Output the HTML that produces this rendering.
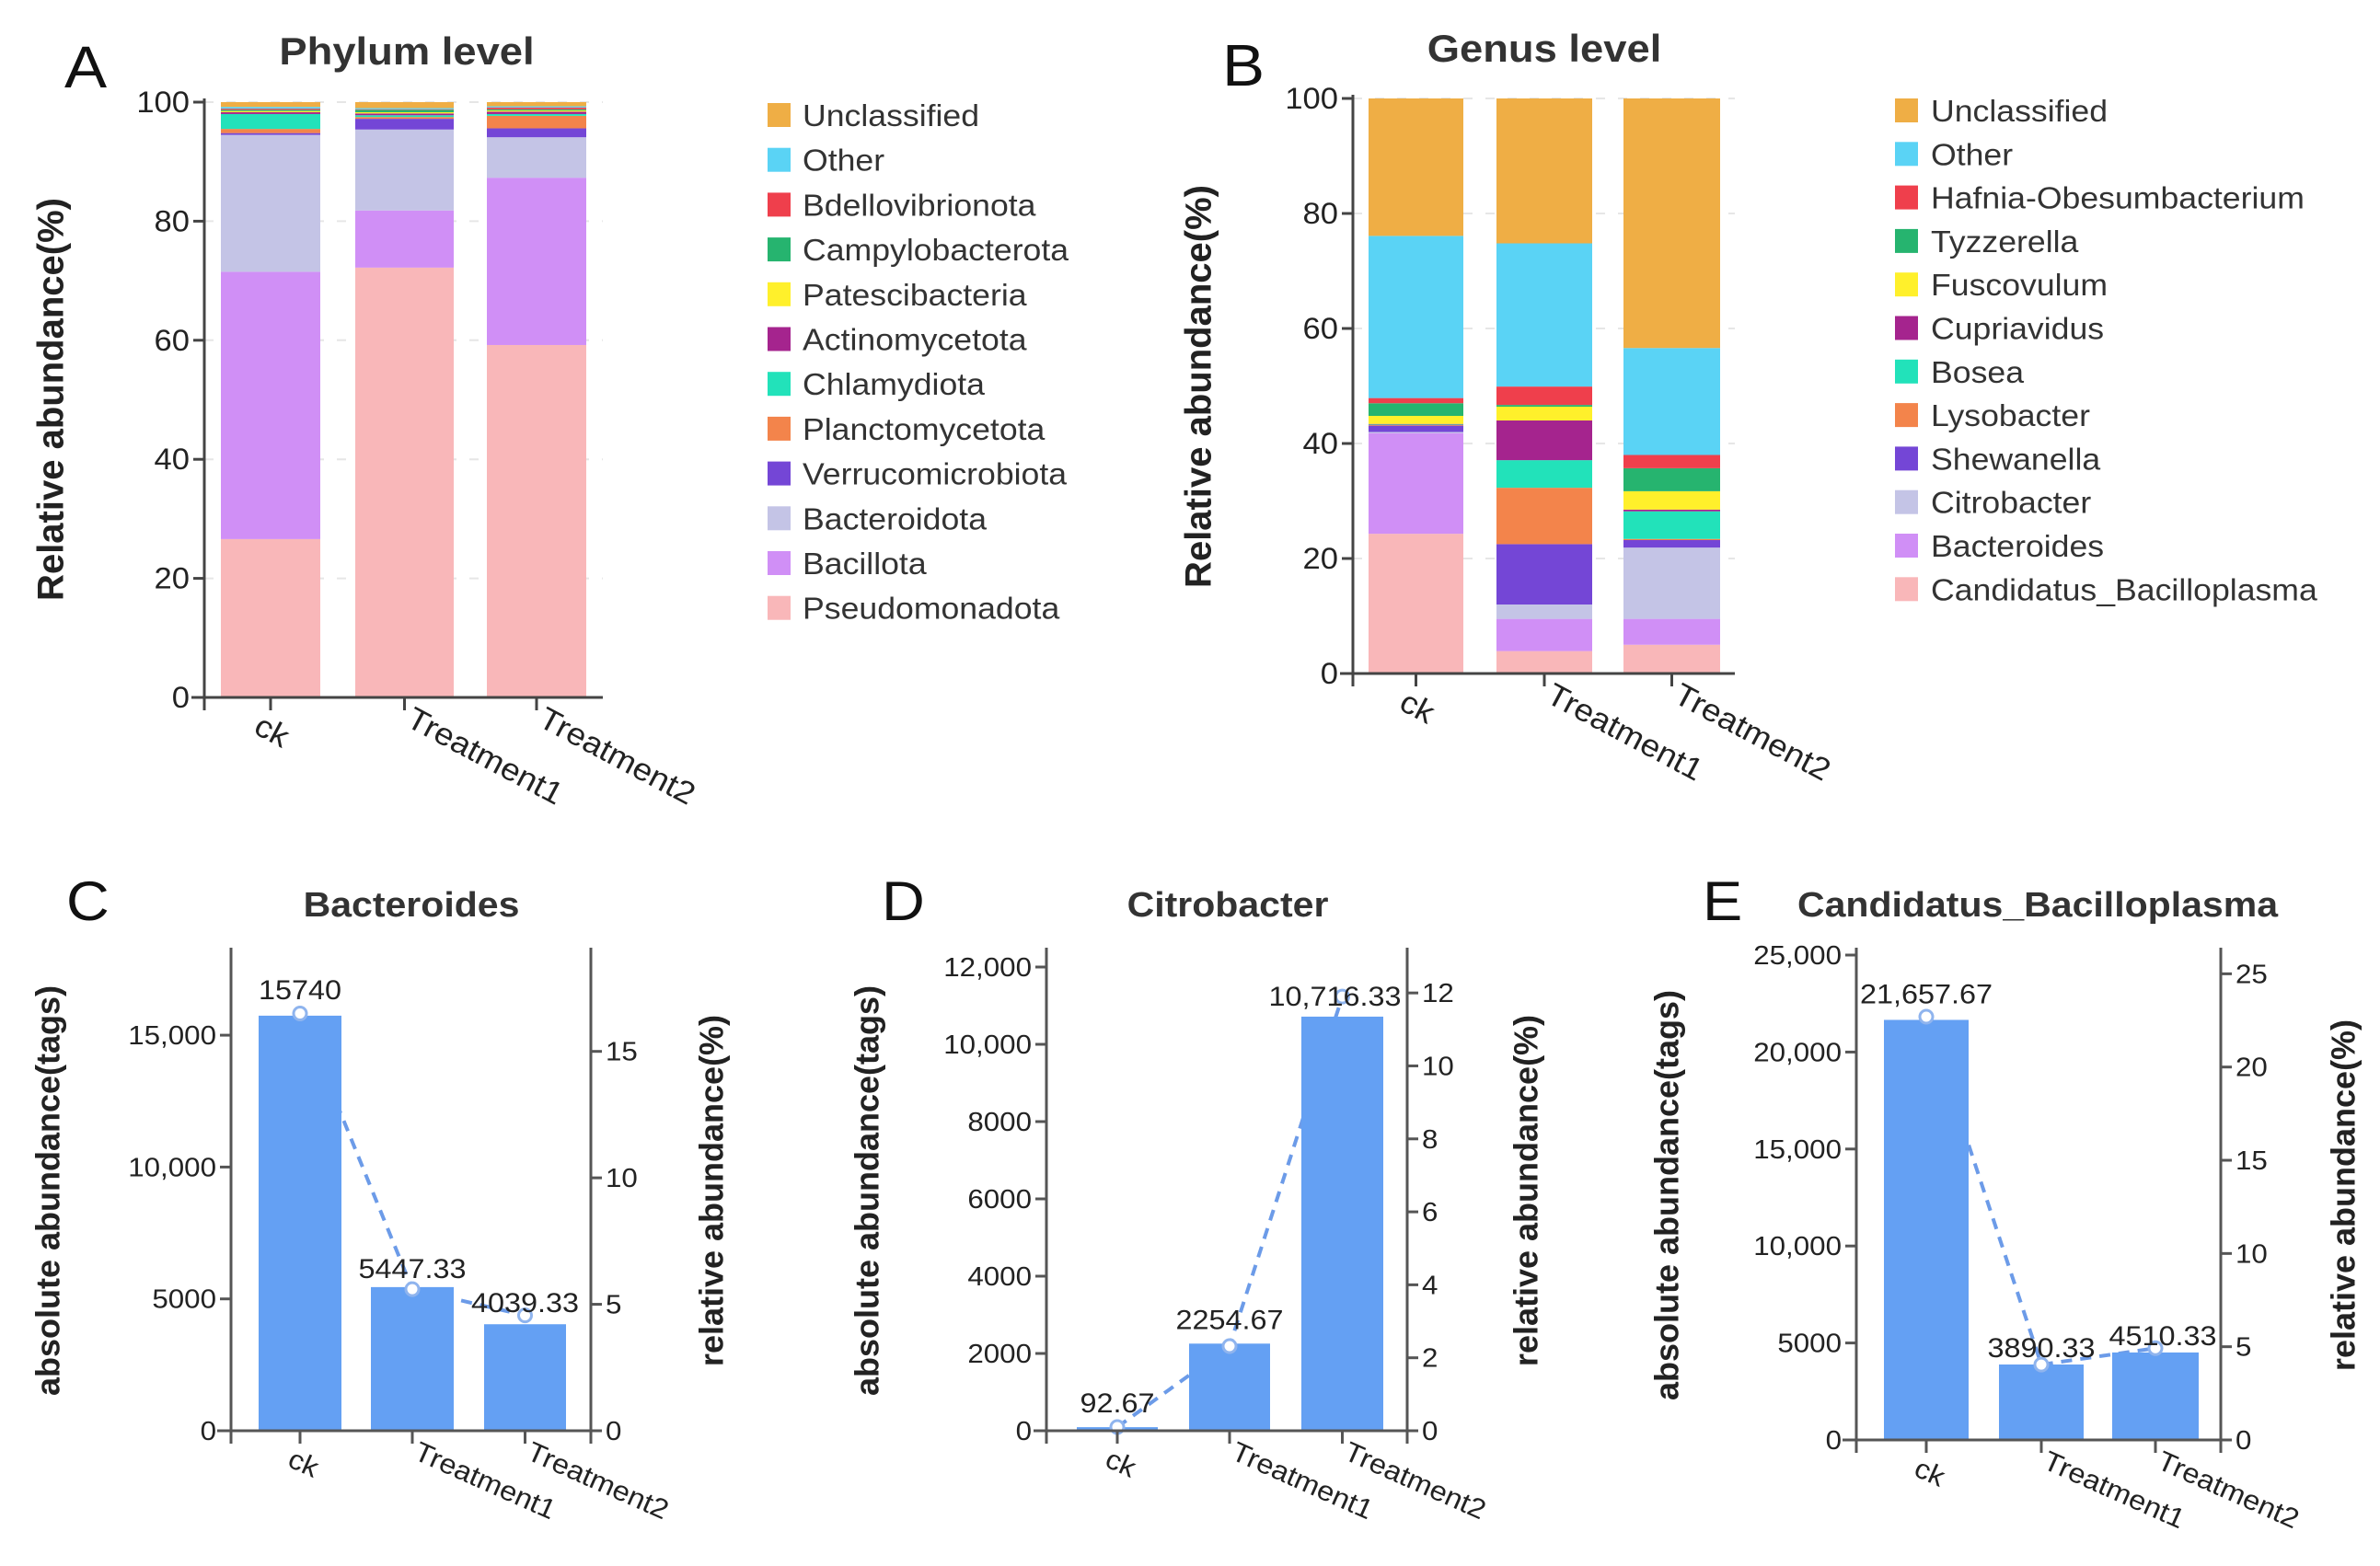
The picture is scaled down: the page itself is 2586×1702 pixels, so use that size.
<!DOCTYPE html>
<html><head><meta charset="utf-8">
<style>
html,body{margin:0;padding:0;background:#fff;}
svg{display:block;font-family:"Liberation Sans",Arial,sans-serif;}
</style></head>
<body>
<svg id="fig" width="2586" height="1702" viewBox="0 0 2586 1702" xmlns="http://www.w3.org/2000/svg"></svg>
<script>
// ---------- DATA ----------
const groups = ["ck","Treatment1","Treatment2"];
// Panel A (phylum), stacked bottom->top
const phylaNames = ["Pseudomonadota","Bacillota","Bacteroidota","Verrucomicrobiota","Planctomycetota","Chlamydiota","Actinomycetota","Patescibacteria","Campylobacterota","Bdellovibrionota","Other","Unclassified"];
const phylaCk = [26.6,44.9,23.0,0.3,0.7,2.5,0.3,0.2,0.2,0.2,0.3,0.8];
const phylaT1 = [72.2,9.6,13.6,1.8,0.3,0.3,0.3,0.2,0.4,0.1,0.2,1.0];
const phylaT2 = [59.2,28.1,6.8,1.5,2.1,0.3,0.4,0.2,0.2,0.3,0.2,0.7];
// Panel B (genus), stacked bottom->top
const genusNames = ["Candidatus_Bacilloplasma","Bacteroides","Citrobacter","Shewanella","Lysobacter","Bosea","Cupriavidus","Fuscovulum","Tyzzerella","Hafnia-Obesumbacterium","Other","Unclassified"];
const genusCk = [24.3,17.5,0.2,1.1,0.1,0.1,0.1,1.4,2.2,0.9,28.2,23.9];
const genusT1 = [3.9,5.6,2.5,10.5,9.8,4.8,6.9,2.4,0.3,3.2,24.9,25.2];
const genusT2 = [5.0,4.5,12.4,1.3,0.2,4.8,0.3,3.2,4.0,2.3,18.6,43.4];
const stackColors = ["#F9B7B9","#D08FF6","#C4C4E6","#7446D6","#F3844B","#22E2BA","#A5248E","#FFF02B","#26B46F","#EF3F4C","#5AD3F5","#EFAE45"];
const stackTicks = [0,20,40,60,80,100];
// Panel C
const bactAbs = [15740,5447.33,4039.33];
const bactRel = [16.5,5.6,4.56];
const bactLabels = ["15740","5447.33","4039.33"];
const bactLeftTicks = [0,5000,10000,15000];
const bactLeftTickLabels = ["0","5000","10,000","15,000"];
const bactRightTicks = [0,5,10,15];
// Panel D
const citAbs = [92.67,2254.67,10716.33];
const citRel = [0.1,2.32,11.9];
const citLabels = ["92.67","2254.67","10,716.33"];
const citLeftTicks = [0,2000,4000,6000,8000,10000,12000];
const citLeftTickLabels = ["0","2000","4000","6000","8000","10,000","12,000"];
const citRightTicks = [0,2,4,6,8,10,12];
// Panel E
const candAbs = [21657.67,3890.33,4510.33];
const candRel = [22.7,4.04,4.92];
const candLabels = ["21,657.67","3890.33","4510.33"];
const candLeftTicks = [0,5000,10000,15000,20000,25000];
const candLeftTickLabels = ["0","5000","10,000","15,000","20,000","25,000"];
const candRightTicks = [0,5,10,15,20,25];

// ---------- HELPERS ----------
const NS="http://www.w3.org/2000/svg";
const svg=document.getElementById('fig');
const SX=1.08;
function mk(tag,attrs,parent){const e=document.createElementNS(NS,tag);for(const k in attrs)e.setAttribute(k,attrs[k]);(parent||svg).appendChild(e);return e;}
function txt(x,y,s,size,opt,parent){
  opt=opt||{};
  const e=mk('text',{'font-size':size,fill:opt.fill||'#222','text-anchor':opt.anchor||'start','font-weight':opt.bold?'bold':'normal','dominant-baseline':opt.base||'alphabetic'},parent);
  let tr='translate('+x+','+y+')';
  if(opt.rot!==undefined)tr+=' rotate('+opt.rot+')';
  if(!opt.noscale)tr+=' scale('+SX+',1)';
  e.setAttribute('transform',tr);
  e.textContent=s;return e;
}
function line(x1,y1,x2,y2,c,w,parent){return mk('line',{x1,y1,x2,y2,stroke:c||'#444','stroke-width':w||3},parent);}

// ---------- STACKED PANELS ----------
function stacked(cfg){
  const g=mk('g',{});
  
  
  const yS=v=>cfg.y0-(cfg.y0-cfg.y100)*v/100;
  stackTicks.forEach(t=>{if(t>0){const l=line(cfg.ax,yS(t),cfg.axEnd,yS(t),'#e6e6e6',2,g);l.setAttribute('stroke-dasharray','10 14');}});
  cfg.series.forEach((vals,gi)=>{
    let cum=0;
    vals.forEach((v,si)=>{
      const r=mk('rect',{x:cfg.bars[gi][0],width:cfg.bars[gi][1]-cfg.bars[gi][0],y:yS(cum+v),height:yS(cum)-yS(cum+v),fill:stackColors[si]},g);
      
      
      cum+=v;
    });
  });
  line(cfg.ax,cfg.y100-4,cfg.ax,cfg.y0+14,'#444',3,g);
  line(cfg.ax-14,cfg.y0,cfg.axEnd,cfg.y0,'#444',3,g);
  stackTicks.forEach(t=>{
    line(cfg.ax-12,yS(t),cfg.ax,yS(t),'#444',3,g);
    const tl=txt(cfg.ax-16,yS(t)+11,String(t),32,{anchor:'end'},g);
    
    
  });
  cfg.bars.forEach((b,gi)=>{
    const cx=(b[0]+b[1])/2;
    line(cx,cfg.y0,cx,cfg.y0+14,'#444',3,g);
    const xl=txt(cx+(gi===0?-20:0),cfg.y0+(gi===0?38:30),groups[gi],34,{rot:28},g);
    
    
  });
  const yt=txt(cfg.ylX,cfg.ylY,'Relative abundance(%)',40,{anchor:'middle',bold:true,rot:-90,noscale:true,base:'middle'},g);
  
  
  const tt=txt(cfg.titleX,cfg.titleY,cfg.title,42,{anchor:'middle',bold:true,fill:'#333'},g);
  
  
  const pl=txt(cfg.letterX,cfg.letterY,cfg.letter,64,{fill:'#111'},g);
  
  
  for(let i=0;i<cfg.names.length;i++){
    const si=cfg.names.length-1-i;
    const cy=cfg.legY0+i*cfg.legStep;
    const lg=mk('g',{},g);
    
    
    mk('rect',{x:cfg.swX,y:cy-13,width:25,height:26,fill:stackColors[si]},lg);
    txt(cfg.legTX,cy+12,cfg.names[si],33,{fill:'#333'},lg);
  }
}
stacked({name:'phylum-chart',series:[phylaCk,phylaT1,phylaT2],names:phylaNames,ax:222,axEnd:655,y0:758,y100:111,
  bars:[[240,348],[386,493],[529,637]],ylX:58,ylY:434,title:'Phylum level',titleX:442,titleY:70,letter:'A',letterX:70,letterY:95,
  swX:834,legTX:872,legY0:125,legStep:48.7});
stacked({name:'genus-chart',series:[genusCk,genusT1,genusT2],names:genusNames,ax:1470,axEnd:1885,y0:732,y100:107,
  bars:[[1487,1590],[1626,1730],[1764,1869]],ylX:1305,ylY:420,title:'Genus level',titleX:1678,titleY:67,letter:'B',letterX:1328,letterY:93,
  swX:2059,legTX:2098,legY0:120,legStep:47.3});

// ---------- DUAL AXIS PANELS ----------
function dual(cfg){
  const g=mk('g',{});
  
  
  const yL=v=>cfg.y0-(cfg.y0-cfg.yTop)*v/cfg.lMax;
  const yR=v=>cfg.y0-(cfg.y0-cfg.yTop)*v/cfg.rMax;
  const cxs=cfg.bars.map(b=>(b[0]+b[1])/2);
  const pts=cfg.rel.map((v,i)=>cxs[i]+','+yR(v)).join(' ');
  const pl=mk('polyline',{points:pts,fill:'none',stroke:'#6C9BE8','stroke-width':4,'stroke-dasharray':'12 9'},g);
  
  
  cfg.abs.forEach((v,i)=>{
    const r=mk('rect',{x:cfg.bars[i][0],width:cfg.bars[i][1]-cfg.bars[i][0],y:yL(v),height:cfg.y0-yL(v),fill:'#64A0F3'},g);
    
    
  });
  cfg.rel.forEach((v,i)=>{
    const c=mk('circle',{cx:cxs[i],cy:yR(v),r:7,fill:'#fff',stroke:'#8FB4EE','stroke-width':3},g);
    
    
  });
  cfg.abs.forEach((v,i)=>{
    const t=txt(cxs[i]+(cfg.lblDx?cfg.lblDx[i]:0),yL(v)-cfg.lblGap[i],cfg.labels[i],30,{anchor:'middle'},g);
    
    
  });
  line(cfg.lx,cfg.yTop,cfg.lx,cfg.y0+14,'#555',3,g);
  line(cfg.rx,cfg.yTop,cfg.rx,cfg.y0+14,'#555',3,g);
  line(cfg.xs,cfg.y0,cfg.rx,cfg.y0,'#555',3,g);
  cfg.lTicks.forEach((t,i)=>{
    line(cfg.lx-12,yL(t),cfg.lx,yL(t),'#555',3,g);
    const tl=txt(cfg.lx-16,yL(t)+10,cfg.lTickLabels[i],29,{anchor:'end'},g);
    
    
  });
  cfg.rTicks.forEach(t=>{
    line(cfg.rx,yR(t),cfg.rx+12,yR(t),'#555',3,g);
    const tl=txt(cfg.rx+16,yR(t)+10,String(t),29,{},g);
    
    
  });
  cxs.forEach((cx,i)=>{
    line(cx,cfg.y0,cx,cfg.y0+14,'#555',3,g);
    const xl=txt(cx+(i===0?-15:0),cfg.y0+(i===0?38:30),groups[i],30,{rot:24},g);
    
    
  });
  const a=txt(cfg.llX,cfg.labY,'absolute abundance(tags)',36,{anchor:'middle',bold:true,rot:-90,noscale:true,base:'middle'},g);
  
  
  const b=txt(cfg.rlX,cfg.labY,'relative abundance(%)',36,{anchor:'middle',bold:true,rot:-90,noscale:true,base:'middle'},g);
  
  
  const tt=txt(cfg.titleX,996,cfg.title,38,{anchor:'middle',bold:true,fill:'#333'},g);
  
  
  const L=txt(cfg.letterX,1000,cfg.letter,60,{fill:'#111'},g);
  
  
}
dual({name:'bacteroides-chart',abs:bactAbs,rel:bactRel,labels:bactLabels,lTicks:bactLeftTicks,lTickLabels:bactLeftTickLabels,rTicks:bactRightTicks,
  lMax:18318,rMax:19.1,y0:1555,yTop:1030,lx:251,rx:642,xs:236,bars:[[281,371],[403,493],[526,615]],
  lblGap:[18,10,13],lblDx:[0,0,0],llX:55,rlX:776,labY:1294,title:'Bacteroides',titleX:447,letter:'C',letterX:72});
dual({name:'citrobacter-chart',abs:citAbs,rel:citRel,labels:citLabels,lTicks:citLeftTicks,lTickLabels:citLeftTickLabels,rTicks:citRightTicks,
  lMax:12500,rMax:13.24,y0:1555,yTop:1030,lx:1137,rx:1529,xs:1123,bars:[[1170,1258],[1292,1380],[1414,1503]],
  lblGap:[16,16,12],lblDx:[0,0,-8],llX:945,rlX:1661,labY:1294,title:'Citrobacter',titleX:1334,letter:'D',letterX:958});
dual({name:'bacilloplasma-chart',abs:candAbs,rel:candRel,labels:candLabels,lTicks:candLeftTicks,lTickLabels:candLeftTickLabels,rTicks:candRightTicks,
  lMax:25380,rMax:26.4,y0:1565,yTop:1030,lx:2017,rx:2413,xs:2002,bars:[[2047,2139],[2172,2264],[2295,2389]],
  lblGap:[18,8,8],lblDx:[0,0,8],llX:1814,rlX:2549,labY:1299,title:'Candidatus_Bacilloplasma',titleX:2214,letter:'E',letterX:1850});
</script>
</body></html>
